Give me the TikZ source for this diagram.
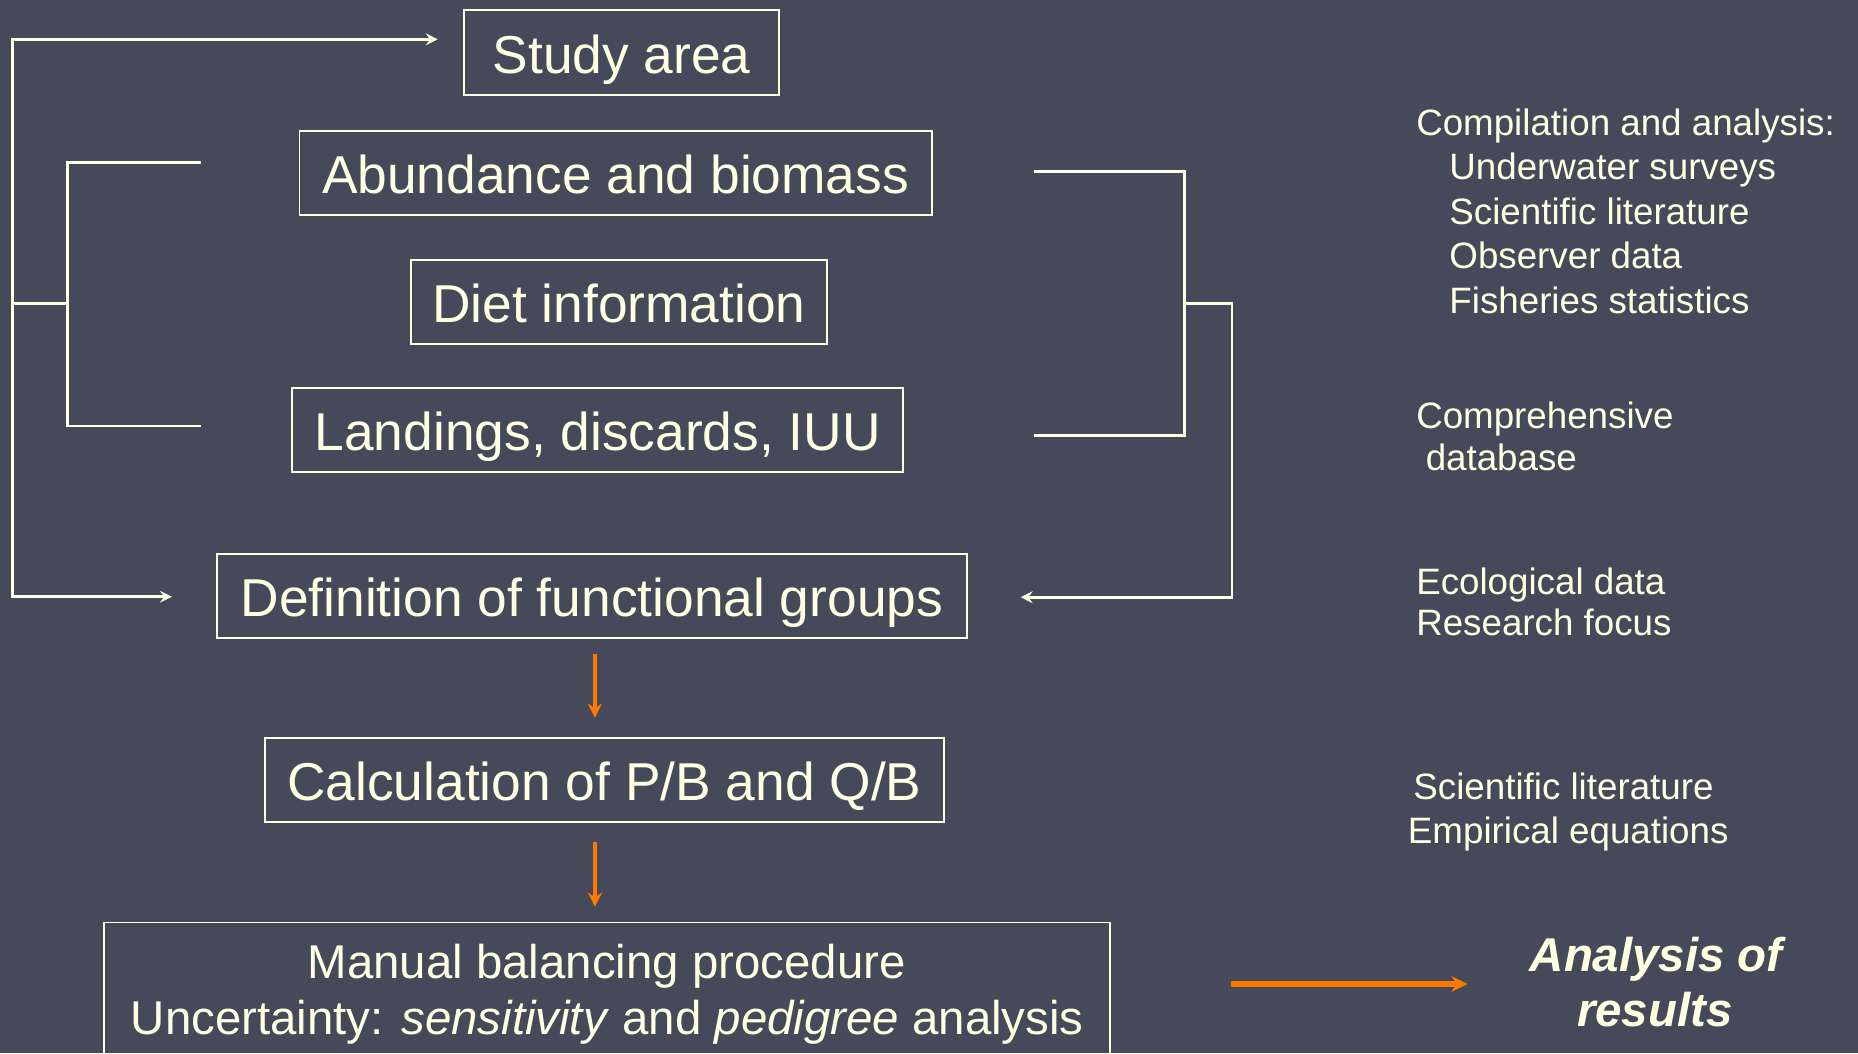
\documentclass[tikz,border=0pt]{standalone}
\usepackage{fontspec}
\setmainfont{Liberation Sans}
\usetikzlibrary{arrows.meta}
\definecolor{bg}{RGB}{70,73,89}
\definecolor{fg}{RGB}{255,255,226}
\definecolor{orng}{RGB}{255,120,0}
\begin{document}
\begin{tikzpicture}[x=1pt,y=-1pt,
  box/.style={draw=fg, line width=1.6pt, text=fg, font=\fontsize{45}{54}\selectfont, inner sep=0pt, text height=38pt, text depth=3pt},
  mtext/.style={text=fg, font=\fontsize{40}{48}\selectfont, inner sep=0pt, anchor=base},
  side/.style={text=fg, font=\fontsize{31}{37}\selectfont, inner sep=0pt, anchor=base west},
  restext/.style={text=fg, font=\fontsize{40}{46}\selectfont\bfseries\itshape, inner sep=0pt, anchor=base},
  wline/.style={draw=fg, line width=2.4pt},
  warr/.style={wline, -{Stealth[length=10pt,width=10pt,inset=3.5pt]}},
  oarr/.style={draw=orng, line width=3pt, -{Stealth[length=12pt,width=12pt,inset=4pt]}},
  oarrh/.style={draw=orng, line width=4.5pt, -{Stealth[length=13.5pt,width=13pt,inset=4pt]}},
]
\fill[bg] (0,0) rectangle (1568,889);
\useasboundingbox (0,0) rectangle (1568,889);

% main boxes
\node[box, minimum width=265.6pt, minimum height=71.8pt] (study) at (524.6,44.3) {Study area};
\node[box, minimum width=533.5pt, minimum height=71.2pt] (abund) at (519.5,146.1) {Abundance and biomass};
\node[box, minimum width=351.4pt, minimum height=71.2pt] (diet) at (522.3,255) {Diet information};
\node[box, minimum width=515.3pt, minimum height=70.8pt] (land) at (504.4,362.6) {Landings, discards, IUU};
\node[box, minimum width=633pt, minimum height=71.5pt] (defn) at (499.5,503) {Definition of functional groups};
\node[box, minimum width=573.4pt, minimum height=71.5pt] (calc) at (510.1,658.3) {Calculation of P/B and Q/B};
\node[box, minimum width=849pt, minimum height=130pt, anchor=north] (manual) at (512.1,777.7) {};
\node[mtext] (m1) at (512.1,825.6) {Manual balancing procedure};
\node[mtext] (m2) at (512.5,873) {Uncertainty: \textit{sensitivity} and \textit{pedigree} analysis};

% right-side texts
\node[side] (c1) at (1195,114.3) {Compilation and analysis:};
\node[side] (c2) at (1223,151.8) {Underwater surveys};
\node[side] (c3) at (1223,189.3) {Scientific literature};
\node[side] (c4) at (1223,226.8) {Observer data};
\node[side] (c5) at (1223,264.3) {Fisheries statistics};
\node[side] (d1) at (1195,362) {Comprehensive};
\node[side] (d2) at (1203,397) {database};
\node[side] (e1) at (1195,501.9) {Ecological data};
\node[side] (e2) at (1195,536.5) {Research focus};
\node[side] (s1) at (1192.6,675) {Scientific literature};
\node[side] (s2) at (1188,711.6) {Empirical equations};
\node[restext] (res1) at (1397.7,820) {Analysis of};
\node[restext] (res2) at (1396.6,866.4) {results};

% left bracket
\coordinate (lt) at (10.8,33.2);
\coordinate (lj) at (10.8,256);
\coordinate (lb) at (10.8,503.6);
\coordinate (ij) at (57.3,256);
\coordinate (it) at (57.3,137.3);
\coordinate (ib) at (57.3,359.5);
\coordinate (ite) at (170,137.3);
\coordinate (ibe) at (170,359.5);
\coordinate (sain) at (369.4,33.2);
\coordinate (dfin) at (145,503.6);
\draw[wline] (ite) -- (it) -- (ib) -- (ibe);
\draw[wline] (ij) -- (lj);
\draw[warr] (lj) -- (lt) -- (sain);
\draw[warr] (lj) -- (lb) -- (dfin);

% right bracket
\coordinate (rt1) at (872.5,144.4);
\coordinate (rt2) at (999.5,144.4);
\coordinate (rb1) at (872.5,367.8);
\coordinate (rb2) at (999.5,367.8);
\coordinate (rj1) at (999.5,256.4);
\coordinate (rj2) at (1039.7,256.4);
\coordinate (rj3) at (1039.7,504);
\coordinate (rin) at (861.4,504);
\draw[wline] (rt1) -- (rt2) -- (rb2) -- (rb1);
\draw[warr] (rj1) -- (rj2) -- (rj3) -- (rin);

% orange arrows
\draw[oarr, shorten <=12pt, shorten >=16pt] ([xshift=2.5pt]defn.south) -- ([xshift=2.5pt]defn.south |- calc.north);
\draw[oarr, shorten <=16pt, shorten >=12.5pt] ([xshift=-8pt]calc.south) -- ([xshift=-8pt]calc.south |- manual.north);
\coordinate (oa) at (1039,830.4);
\coordinate (ob) at (1238.6,830.4);
\draw[oarrh] (oa) -- (ob);
\end{tikzpicture}
\end{document}
